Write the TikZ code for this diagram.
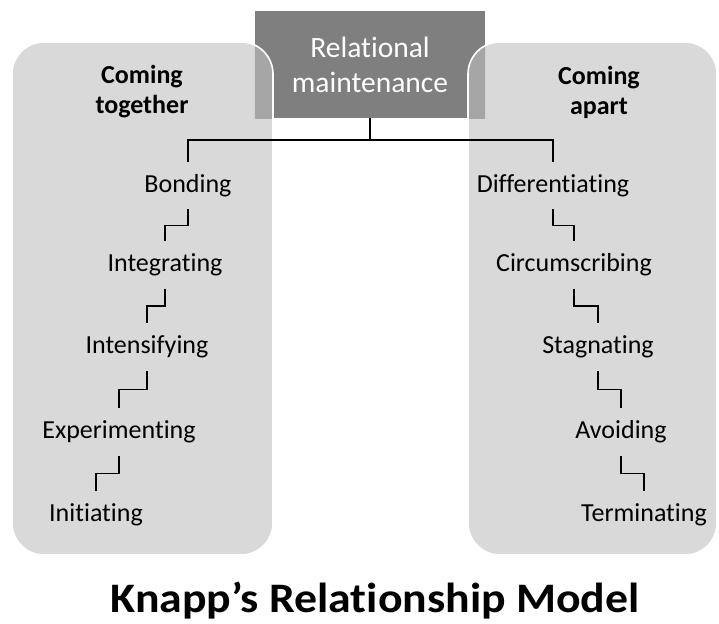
\documentclass[tikz,border=0pt]{standalone}
\usepackage{fontspec}
\setmainfont[Ligatures={NoCommon,NoContextual}]{Carlito}
\usetikzlibrary{calc}
\definecolor{panelgray}{HTML}{D9D9D9}
\definecolor{boxgray}{HTML}{7F7F7F}
\definecolor{overlapgray}{HTML}{A6A6A6}
\begin{document}
\begin{tikzpicture}[x=1pt,y=-1pt,
  mainbox/.style={fill=boxgray, minimum width=230pt, minimum height=107pt, inner sep=0pt,
    text=white, align=center, font=\fontsize{29.5}{35}\selectfont},
  panelfill/.style={fill=panelgray, rounded corners=32pt},
  paneloverlap/.style={fill=overlapgray, rounded corners=32pt},
  panelrim/.style={draw=white, line width=1.6pt, rounded corners=32pt},
  head/.style={font=\bfseries\fontsize{26}{30}\selectfont, align=center, inner sep=0pt},
  item/.style={font=\fontsize{26}{30}\selectfont, inner sep=0pt, minimum height=47pt,
    text height=18pt, text depth=5pt},
  conn/.style={draw=black, line width=1.5pt},
  title/.style={font=\bfseries\fontsize{42}{50}\selectfont, anchor=base, inner sep=0pt}]
\useasboundingbox (0,0) rectangle (719,623);

% central box
\node[mainbox] (rm) at (370,64.5) {Relational\\maintenance};

% side panels
\path[panelfill] (12,42) rectangle (273,555);
\path[panelfill] (468,42) rectangle (717,555);
\begin{scope}
  \clip (rm.north west) rectangle (rm.south east);
  \path[paneloverlap] (12,42) rectangle (273,555);
  \path[paneloverlap] (468,42) rectangle (717,555);
\end{scope}
\path[panelrim] (12,42) rectangle (273,555);
\path[panelrim] (468,42) rectangle (717,555);

% headings
\node[head] (ct) at (142,92) {Coming\\together};
\node[head] (ca) at (599,92) {Coming\\apart};

% coming together
\node[item] (bond) at (188,185.5) {Bonding};
\node[item] (integ) at (165,265) {Integrating};
\node[item] (inten) at (147,347) {Intensifying};
\node[item] (exper) at (119,432) {Experimenting};
\node[item] (init) at (96,515) {Initiating};

% coming apart
\node[item] (diff) at (553,185.5) {Differentiating};
\node[item] (circ) at (574,265) {Circumscribing};
\node[item] (stag) at (598,347) {Stagnating};
\node[item] (avoid) at (621,432) {Avoiding};
\node[item] (term) at (644,515) {Terminating};

% tree connectors
\draw[conn] (rm.south) -- ++(0,22) coordinate (hub);
\draw[conn] (bond.north) |- (hub) -| (diff.north);

\foreach \a/\b in {bond/integ, integ/inten, inten/exper, exper/init,
                   diff/circ, circ/stag, stag/avoid, avoid/term}{
  \draw[conn] (\a.south) |- ($(\a.south)!.5!(\b.north)$) -| (\b.north);
}

% title
\node[title] (ttl) at (375,612) {\scalebox{1.09}[1]{Knapp’s Relationship Model}};
\end{tikzpicture}
\end{document}
